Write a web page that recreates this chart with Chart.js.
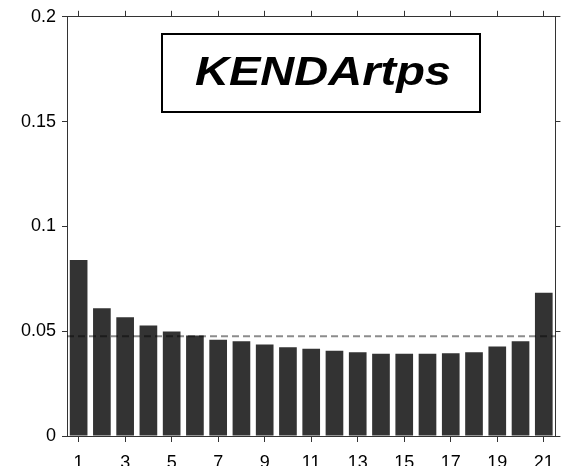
<!DOCTYPE html>
<html>
<head>
<meta charset="utf-8">
<script src="https://cdn.jsdelivr.net/npm/chart.js@4.4.0/dist/chart.umd.min.js"></script>
<style>
  html, body { margin: 0; padding: 0; background: #fff; overflow: hidden; }
  #wrap { width: 564px; height: 466px; overflow: hidden; }
</style>
</head>
<body>
<div id="wrap"><canvas id="chart" width="564" height="480"></canvas></div>
<script>
// categories (rank positions) and the bar heights
const ranks = ['1','2','3','4','5','6','7','8','9','10','11','12','13','14','15','16','17','18','19','20','21'];
const freqs = [0.084, 0.061, 0.0566, 0.0527, 0.0498, 0.0479, 0.0459, 0.0452, 0.0437, 0.0424,
               0.0416, 0.0407, 0.0399, 0.0392, 0.0392, 0.0392, 0.0395, 0.0399, 0.0427, 0.0452, 0.0683];
// dashed reference level
const refLevel = [0.0476];
const yTicks = [0, 0.05, 0.1, 0.15, 0.2];
const panelTitle = 'KENDArtps';

const tickFont = { family: '"Liberation Sans", Arial, sans-serif', size: 18 };

// keep only odd ranks as ticks
function oddOnly(axis) {
    axis.ticks = axis.ticks.filter((t, i) => i % 2 === 0);
}
function fixedTicks(axis) {
    axis.ticks = yTicks.map(v => ({ value: v }));
}

// dashed line + boxed title
const overlay = {
    id: 'overlay',
    afterDatasetsDraw(chart) {
        const ctx = chart.ctx;
        const ca = chart.chartArea;
        const y = chart.scales.y.getPixelForValue(refLevel[0]);
        ctx.save();
        ctx.strokeStyle = 'rgba(0,0,0,0.45)';
        ctx.lineWidth = 1.8;
        ctx.setLineDash([7, 4]);
        ctx.beginPath();
        ctx.moveTo(ca.left, y);
        ctx.lineTo(ca.right, y);
        ctx.stroke();
        ctx.restore();

        // title box
        ctx.save();
        ctx.fillStyle = '#fff';
        ctx.fillRect(162, 34, 318, 78);
        ctx.strokeStyle = '#000';
        ctx.lineWidth = 2;
        ctx.strokeRect(162, 34, 318, 78);
        ctx.font = 'bold italic 41px "Liberation Sans", Arial, sans-serif';
        ctx.fillStyle = '#000';
        ctx.textBaseline = 'alphabetic';
        const w = ctx.measureText(panelTitle).width;
        const target = 256;
        ctx.translate(195, 85);
        ctx.scale(target / w, 1);
        ctx.fillText(panelTitle, 0, 0);
        ctx.restore();
    }
};

new Chart(document.getElementById('chart'), {
    type: 'bar',
    data: {
        labels: ranks,
        datasets: [{
            data: freqs,
            backgroundColor: '#333333',
            borderWidth: 0,
            barPercentage: 0.76,
            categoryPercentage: 1.0
        }]
    },
    options: {
        responsive: false,
        animation: false,
        devicePixelRatio: 1,
        layout: { padding: 0 },
        plugins: {
            legend: { display: false },
            tooltip: { enabled: false },
            title: { display: false }
        },
        scales: {
            x: {
                position: 'bottom',
                grid: { display: true, drawOnChartArea: false, offset: false, tickLength: 6, color: '#333' },
                border: { display: true, color: '#333' },
                ticks: { autoSkip: false, maxRotation: 0, color: '#000', font: tickFont, padding: 10 },
                afterBuildTicks: oddOnly,
                afterFit: s => { s.height = 44; }
            },
            x2: {
                type: 'category',
                position: 'top',
                labels: ranks,
                grid: { display: true, drawOnChartArea: false, offset: false, tickLength: 6, color: '#333' },
                border: { display: true, color: '#333' },
                ticks: { display: false, autoSkip: false },
                afterBuildTicks: oddOnly,
                afterFit: s => { s.height = 15; }
            },
            y: {
                position: 'left',
                min: 0,
                max: 0.2,
                grid: { display: true, drawOnChartArea: false, tickLength: 5, color: '#333' },
                border: { display: true, color: '#333' },
                ticks: {
                    color: '#000', font: tickFont, padding: 6,
                    callback: v => String(+v.toFixed(2))
                },
                afterBuildTicks: fixedTicks,
                afterFit: s => { s.width = 67; }
            },
            y2: {
                position: 'right',
                min: 0,
                max: 0.2,
                grid: { display: true, drawOnChartArea: false, tickLength: 5, color: '#333' },
                border: { display: true, color: '#333' },
                ticks: { display: false },
                afterBuildTicks: fixedTicks,
                afterFit: s => { s.width = 8; }
            }
        }
    },
    plugins: [overlay]
});
</script>
</body>
</html>
